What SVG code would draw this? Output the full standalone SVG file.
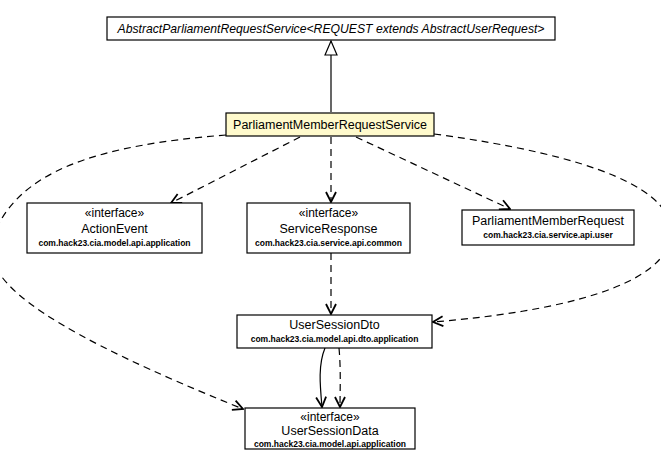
<svg xmlns="http://www.w3.org/2000/svg" width="661" height="469" viewBox="0 0 661 469">
<style>
.box{fill:#fff;stroke:#000;stroke-width:1.2}
.cur{fill:#fffacc;stroke:#000;stroke-width:1.2}
text{font-family:"Liberation Sans",Arial,sans-serif;fill:#000;text-anchor:middle}
.st{font-size:12px}
.nm{font-size:12.5px}
.pk{font-size:8.5px;font-weight:bold}
.it{font-size:12.2px;font-style:italic}
.dep{fill:none;stroke:#000;stroke-width:1.2;stroke-dasharray:7,5;marker-end:url(#arr)}
.sol{fill:none;stroke:#000;stroke-width:1.2;marker-end:url(#arr)}
</style>
<defs>
<marker id="arr" viewBox="0 0 12 12" refX="11" refY="6" markerWidth="12" markerHeight="12" markerUnits="userSpaceOnUse" orient="auto">
<path d="M1,1 L11,6 L1,11" fill="none" stroke="#000" stroke-width="1.8"/>
</marker>
<marker id="tri" viewBox="0 0 16 14" refX="15" refY="7" markerWidth="16" markerHeight="14" markerUnits="userSpaceOnUse" orient="auto">
<path d="M1,1 L15,7 L1,13 z" fill="#fff" stroke="#000" stroke-width="1.2"/>
</marker>
</defs>
<g id="connectors">
<line x1="331" y1="112" x2="331" y2="41" stroke="#000" stroke-width="1.2" marker-end="url(#tri)"/>
<path class="dep" d="M300,137 L171,203"/>
<path class="dep" d="M331,137 L331,202"/>
<path class="dep" d="M356,137 L510,209"/>
<path class="dep" d="M331,253 L331,314"/>
<path class="dep" d="M226,135 C100,145 15,170 -8,240 C-20,285 60,335 243,409"/>
<path class="dep" d="M434,134 C590,155 682,190 670,240 C658,295 520,315 433,322"/>
<path class="sol" d="M325,348 C318,365 320,385 322,407"/>
<path class="dep" d="M339,348 C341,370 340,390 340,407"/>
</g>
<g id="AbstractParliamentRequestService">
<rect class="box" x="107" y="17" width="448" height="23"/>
<text class="it" x="331" y="33">AbstractParliamentRequestService&lt;REQUEST extends AbstractUserRequest&gt;</text>
</g>
<g id="ParliamentMemberRequestService">
<rect class="cur" x="226" y="113" width="208" height="23"/>
<text class="nm" x="330" y="129">ParliamentMemberRequestService</text>
</g>
<g id="ActionEvent">
<rect class="box" x="27" y="203" width="175" height="50"/>
<text class="st" x="114.5" y="217">«interface»</text>
<text class="nm" x="114.5" y="233">ActionEvent</text>
<text class="pk" x="114.5" y="246">com.hack23.cia.model.api.application</text>
</g>
<g id="ServiceResponse">
<rect class="box" x="247" y="203" width="163" height="50"/>
<text class="st" x="328.5" y="217">«interface»</text>
<text class="nm" x="328.5" y="233">ServiceResponse</text>
<text class="pk" x="328.5" y="246">com.hack23.cia.service.api.common</text>
</g>
<g id="ParliamentMemberRequest">
<rect class="box" x="462" y="210" width="172" height="35"/>
<text class="nm" x="548" y="225">ParliamentMemberRequest</text>
<text class="pk" x="548" y="238">com.hack23.cia.service.api.user</text>
</g>
<g id="UserSessionDto">
<rect class="box" x="237" y="315" width="195" height="33"/>
<text class="nm" x="334.5" y="329">UserSessionDto</text>
<text class="pk" x="334.5" y="342">com.hack23.cia.model.api.dto.application</text>
</g>
<g id="UserSessionData">
<rect class="box" x="245" y="408" width="170" height="41"/>
<text class="st" x="330" y="421">«interface»</text>
<text class="nm" x="330" y="435">UserSessionData</text>
<text class="pk" x="330" y="447">com.hack23.cia.model.api.application</text>
</g>
</svg>
